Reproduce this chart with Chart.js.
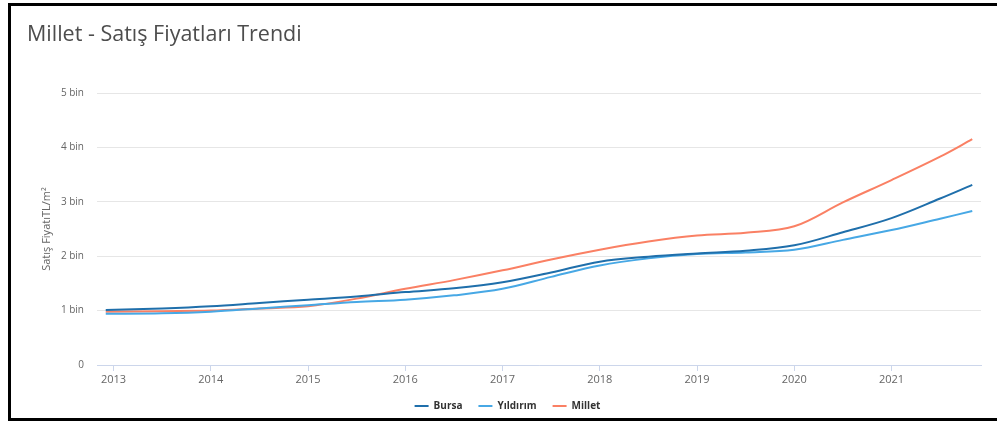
<!DOCTYPE html>
<html>
<head>
<meta charset="utf-8">
<script src="https://cdn.jsdelivr.net/npm/chart.js@4"></script>
<style>
    html, body { margin: 0; padding: 0; background: #fff; }
    #wrap { position: relative; width: 997px; height: 421px; overflow: hidden; }
    #frame {
        position: absolute; left: 8px; top: 3px; width: 1000px; height: 412px;
        border: 3px solid #000; border-right: none; pointer-events: none;
    }
    canvas { position: absolute; left: 0; top: 0; }
</style>
</head>
<body>
<div id="wrap">
    <canvas id="trend" width="997" height="421"></canvas>
    <div id="frame"></div>
</div>
<script>
// decimal years of each reading
const dates = [2012.92, 2013.5, 2014, 2014.5, 2015, 2015.5, 2016, 2016.5, 2017, 2017.5,
               2018, 2018.5, 2019, 2019.5, 2020, 2020.5, 2021, 2021.5, 2021.83];

// TL / m2
const bursa    = [1010, 1040, 1080, 1140, 1200, 1260, 1340, 1410, 1520, 1700,
                  1900, 1990, 2050, 2100, 2200, 2440, 2700, 3060, 3310];
const yildirim = [ 940,  950,  980, 1040, 1100, 1160, 1200, 1280, 1400, 1620,
                  1830, 1960, 2040, 2070, 2120, 2300, 2480, 2690, 2830];
const millet   = [ 980,  990, 1000, 1040, 1080, 1220, 1400, 1560, 1740, 1940,
                  2120, 2270, 2380, 2430, 2550, 2990, 3400, 3830, 4150];

const yearTicks = [2013, 2014, 2015, 2016, 2017, 2018, 2019, 2020, 2021];

function points(values){
    return values.map((v, i) => ({ x: dates[i], y: v }));
}

function line(label, values, color){
    return {
        label: label,
        data: points(values),
        borderColor: color,
        backgroundColor: color,
        borderWidth: 2,
        pointRadius: 0,
        tension: 0.35,
        fill: false
    };
}

const titlePlugin = {
    id: 'pageTitle',
    afterDraw(chart){
        const ctx = chart.ctx;
        ctx.save();
        ctx.font = '21.5px "Open Sans"';
        ctx.fillStyle = '#4d4d4d';
        ctx.textBaseline = 'alphabetic';
        ctx.fillText('Millet - Satış Fiyatları Trendi', 27, 41);
        ctx.restore();
    }
};

document.addEventListener("DOMContentLoaded", function () {

    new Chart(document.getElementById("trend"), {
        type: 'line',
        data: {
            datasets: [
                line('Bursa', bursa, '#1f6fab'),
                line('Yıldırım', yildirim, '#47a8e5'),
                line('Millet', millet, '#fa8064')
            ]
        },
        plugins: [titlePlugin],
        options: {
            responsive: false,
            animation: false,
            layout: { padding: { left: 34, right: 16, top: 93, bottom: 0 } },
            plugins: {
                title: { display: false },
                tooltip: { enabled: false },
                legend: {
                    position: 'bottom',
                    labels: {
                        usePointStyle: true,
                        pointStyle: 'line',
                        pointStyleWidth: 14,
                        padding: 16,
                        color: '#333333',
                        font: { family: 'Open Sans', size: 10, weight: 'bold' }
                    }
                }
            },
            scales: {
                x: {
                    type: 'linear',
                    min: 2012.83,
                    max: 2021.92,
                    afterBuildTicks: s => { s.ticks = yearTicks.map(v => ({ value: v })); },
                    afterFit: s => { s.height = 20; },
                    grid: {
                        display: true,
                        drawOnChartArea: false,
                        drawTicks: true,
                        tickLength: 6,
                        color: '#ccd6eb'
                    },
                    border: { display: true, color: '#ccd6eb' },
                    ticks: {
                        padding: 2,
                        maxRotation: 0,
                        color: '#666666',
                        font: { family: 'Open Sans', size: 11 },
                        callback: v => String(v)
                    }
                },
                y: {
                    min: 0,
                    max: 5000,
                    afterFit: s => { s.width = 63; },
                    grid: { color: '#e6e6e6', drawTicks: false },
                    border: { display: false },
                    ticks: {
                        stepSize: 1000,
                        padding: 13,
                        color: '#666666',
                        font: { family: 'Open Sans', size: 10 },
                        callback: v => v === 0 ? '0' : (v / 1000) + ' bin'
                    },
                    title: {
                        display: true,
                        text: 'Satış FiyatıTL/m²',
                        color: '#666666',
                        padding: { top: 6, bottom: 0 },
                        font: { family: 'Open Sans', size: 11 }
                    }
                }
            }
        }
    });

});
</script>
</body>
</html>
